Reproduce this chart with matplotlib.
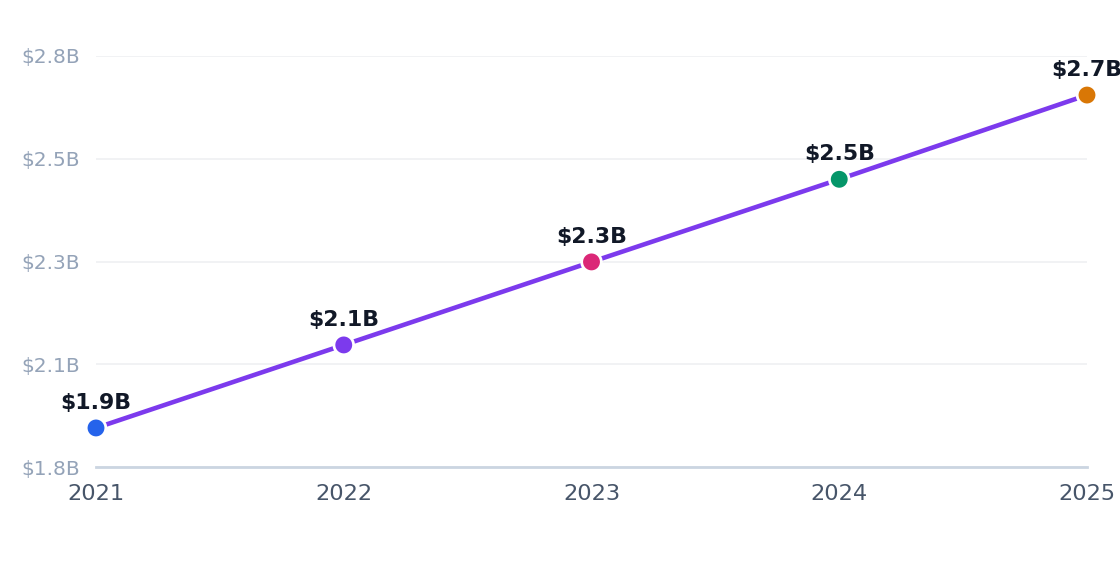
import matplotlib
matplotlib.use("Agg")
import matplotlib.pyplot as plt

years = [2021, 2022, 2023, 2024, 2025]
revenue = [1.895, 2.097, 2.299, 2.5, 2.705]
point_colors = ["#2563eb", "#7c3aed", "#db2777", "#059669", "#d97706"]
point_labels = ["$1.9B", "$2.1B", "$2.3B", "$2.5B", "$2.7B"]
y_ticks = [1.8, 2.05, 2.3, 2.55, 2.8]
y_tick_labels = ["$1.8B", "$2.1B", "$2.3B", "$2.5B", "$2.8B"]

fig = plt.figure(figsize=(11.2, 5.72), dpi=100)
ax = fig.add_axes([96 / 1120, 1 - 467 / 572, (1087 - 96) / 1120, (467 - 56) / 572])

ax.plot(years, revenue, color="#7c3aed", lw=3.3, zorder=2, solid_capstyle="round")
ax.scatter(years, revenue, s=200, c=point_colors, edgecolors="white",
           linewidths=2, zorder=3, clip_on=False)

for x, y, t in zip(years, revenue, point_labels):
    ax.annotate(t, (x, y), xytext=(0, 11), textcoords="offset points",
                ha="center", va="bottom", fontsize=15.8, fontweight="bold",
                color="#111827", annotation_clip=False)

ax.set_xlim(2021, 2025)
ax.set_ylim(1.8, 2.8)
ax.set_xticks(years)
ax.set_xticklabels([str(y) for y in years])
ax.set_yticks(y_ticks)
ax.set_yticklabels(y_tick_labels)

ax.grid(axis="y", color="#f1f2f4", lw=1.4, zorder=0)
for s in ["top", "right", "left"]:
    ax.spines[s].set_visible(False)
ax.spines["bottom"].set_color("#cbd5e1")
ax.spines["bottom"].set_linewidth(2)

ax.tick_params(axis="y", length=0, pad=11.5, labelsize=14.5, labelcolor="#94a3b8")
ax.tick_params(axis="x", length=0, pad=12, labelsize=16.2, labelcolor="#475569")

fig.savefig("out.png", dpi=100)
